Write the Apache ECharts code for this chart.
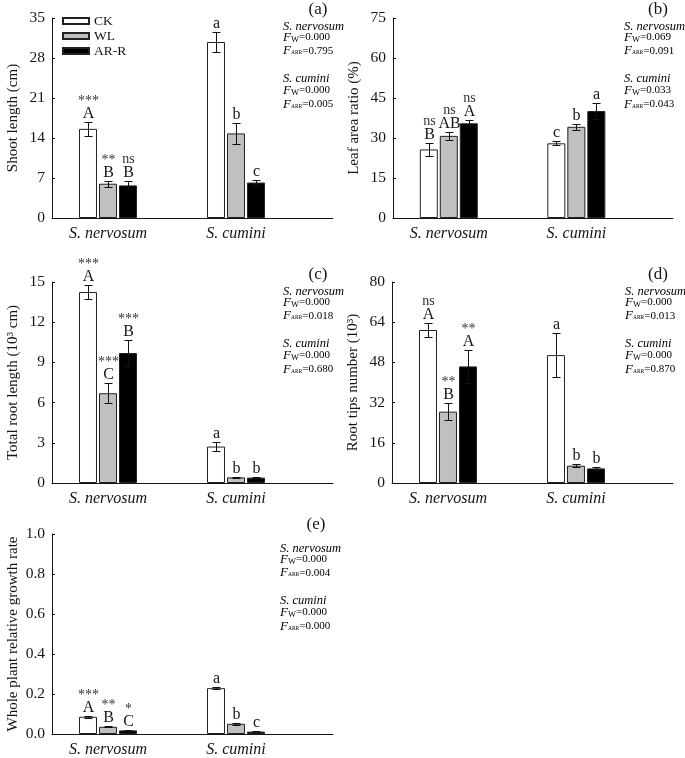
<!DOCTYPE html>
<html><head><meta charset="utf-8">
<script src="https://cdn.jsdelivr.net/npm/echarts@6/dist/echarts.min.js"></script>
<style>html,body{margin:0;padding:0;background:#fff}#c{width:685px;height:758px}</style>
</head><body><div id="c"></div>
<script>
const categories = ['S. nervosum', 'S. cumini'];
const treatments = ['CK', 'WL', 'AR-R'];

// (a) Shoot length (rows: CK, WL, AR-R; cols: S. nervosum, S. cumini)
const shootMean = [[15.6, 30.8], [6.0, 14.8], [5.7, 6.2]];
const shootErr = [[1.2, 1.8], [0.55, 1.85], [0.7, 0.4]];
const shootLetters = [['A', 'a'], ['B', 'b'], ['B', 'c']];
const shootSig = [['***', ''], ['**', ''], ['ns', '']];
const shootTicks = ['0', '7', '14', '21', '28', '35'];
const shootStats = ['0.000', '0.795', '0.000', '0.005'];

// (b) Leaf area ratio
const larMean = [[25.7, 28.0], [30.8, 34.2], [35.5, 40.1]];
const larErr = [[2.5, 0.8], [1.4, 1.1], [1.1, 2.9]];
const larLetters = [['B', 'c'], ['AB', 'b'], ['A', 'a']];
const larSig = [['ns', ''], ['ns', ''], ['ns', '']];
const larTicks = ['0', '15', '30', '45', '60', '75'];
const larStats = ['0.069', '0.091', '0.033', '0.043'];

// (c) Total root length
const trlMean = [[14.25, 2.72], [6.7, 0.42], [9.7, 0.40]];
const trlErr = [[0.55, 0.35], [0.75, 0.05], [1.0, 0.03]];
const trlLetters = [['A', 'a'], ['C', 'b'], ['B', 'b']];
const trlSig = [['***', ''], ['***', ''], ['***', '']];
const trlTicks = ['0', '3', '6', '9', '12', '15'];
const trlStats = ['0.000', '0.018', '0.000', '0.680'];

// (d) Root tips number
const rtnMean = [[60.9, 50.9], [28.4, 6.9], [46.4, 5.8]];
const rtnErr = [[2.9, 8.7], [3.4, 0.65], [6.4, 0.6]];
const rtnLetters = [['A', 'a'], ['B', 'b'], ['A', 'b']];
const rtnSig = [['ns', ''], ['**', ''], ['**', '']];
const rtnTicks = ['0', '16', '32', '48', '64', '80'];
const rtnStats = ['0.000', '0.013', '0.000', '0.870'];

// (e) Whole plant relative growth rate
const rgrMean = [[0.086, 0.229], [0.036, 0.051], [0.018, 0.012]];
const rgrErr = [[0.005, 0.006], [0.003, 0.006], [0.002, 0.002]];
const rgrLetters = [['A', 'a'], ['B', 'b'], ['C', 'c']];
const rgrSig = [['***', ''], ['**', ''], ['*', '']];
const rgrTicks = ['0.0', '0.2', '0.4', '0.6', '0.8', '1.0'];
const rgrStats = ['0.000', '0.004', '0.000', '0.000'];

const FONT = '"Liberation Serif", "Times New Roman", serif';
const INK = '#151515';
const fills = ['#ffffff', '#c0c0c0', '#000000'];
const BAR_W = 18, BAR_STEP = 20;

const panels = [
  { mean: shootMean, err: shootErr, letters: shootLetters, sig: shootSig, ticks: shootTicks, stats: shootStats,
    name: 'Shoot length (cm)', tag: '(a)', grid: { left: 52, top: 18, width: 281, height: 200 }, tagPos: [318, 10], statPos: [283, 27] },
  { mean: larMean, err: larErr, letters: larLetters, sig: larSig, ticks: larTicks, stats: larStats,
    name: 'Leaf area ratio (%)', tag: '(b)', grid: { left: 393, top: 18, width: 280, height: 200 }, tagPos: [658, 10], statPos: [624, 27] },
  { mean: trlMean, err: trlErr, letters: trlLetters, sig: trlSig, ticks: trlTicks, stats: trlStats,
    name: 'Total root length (10³ cm)', tag: '(c)', grid: { left: 52, top: 282, width: 281, height: 201 }, tagPos: [318, 275], statPos: [283, 292] },
  { mean: rtnMean, err: rtnErr, letters: rtnLetters, sig: rtnSig, ticks: rtnTicks, stats: rtnStats,
    name: 'Root tips number (10³)', tag: '(d)', grid: { left: 392, top: 282, width: 281, height: 201 }, tagPos: [658, 275], statPos: [625, 292] },
  { mean: rgrMean, err: rgrErr, letters: rgrLetters, sig: rgrSig, ticks: rgrTicks, stats: rgrStats,
    name: 'Whole plant relative growth rate', tag: '(e)', grid: { left: 52, top: 534, width: 281, height: 201 }, tagPos: [316, 525], statPos: [280, 549] }
];

const grids = [], xAxes = [], yAxes = [], series = [], graphics = [];

panels.forEach((p, pi) => {
  grids.push(Object.assign({ containLabel: false }, p.grid));
  xAxes.push({
    type: 'value', gridIndex: pi, min: 0.5625, max: 2.758,
    axisLine: { show: true, onZero: false, lineStyle: { color: INK, width: 1 } },
    axisTick: { show: false }, splitLine: { show: false },
    axisLabel: {
      customValues: [1, 2],
      formatter: v => categories[Math.round(v) - 1] || '',
      fontFamily: FONT, fontStyle: 'italic', fontSize: 16, color: INK, margin: 8
    }
  });
  const tv = p.ticks.map(Number);
  yAxes.push({
    type: 'value', gridIndex: pi, min: tv[0], max: tv[tv.length - 1], interval: tv[1] - tv[0],
    axisLine: { show: true, lineStyle: { color: INK, width: 1 } },
    axisTick: { show: true, inside: true, length: 3, lineStyle: { color: INK } },
    splitLine: { show: false },
    axisLabel: {
      formatter: v => { const k = tv.findIndex(t => Math.abs(t - v) < 1e-9); return k >= 0 ? p.ticks[k] : ''; },
      fontFamily: FONT, fontSize: 15.5, color: INK, margin: 7
    },
    name: p.name, nameLocation: 'middle', nameGap: 31,
    nameTextStyle: { fontFamily: FONT, fontSize: 15, color: INK }
  });
  treatments.forEach((tr, t) => {
    series.push({
      type: 'bar', name: tr, xAxisIndex: pi, yAxisIndex: pi,
      data: categories.map((c, i) => [i + 1, p.mean[t][i]]),
      barWidth: BAR_W, barGap: '11.1%',
      itemStyle: { color: fills[t], borderColor: '#222', borderWidth: 1 },
      silent: true
    });
  });
  const items = [];
  for (let t = 0; t < 3; t++) for (let i = 0; i < 2; i++)
    items.push({ t, i, m: p.mean[t][i], e: p.err[t][i], letter: p.letters[t][i], sig: p.sig[t][i] });
  series.push({
    type: 'custom', xAxisIndex: pi, yAxisIndex: pi, z: 5, silent: true,
    data: items.map(d => [d.i + 1, d.m, d.e, d.t]),
    renderItem(params, api) {
      const d = items[params.dataIndex];
      const top = api.coord([d.i + 1, d.m + d.e]);
      const bot = api.coord([d.i + 1, d.m - d.e]);
      const cx = Math.round(top[0] + (d.t - 1) * BAR_STEP) + 0.5;
      const ty = Math.round(top[1]) + 0.5, by = Math.round(bot[1]) + 0.5;
      const ls = { stroke: '#111', lineWidth: 1 };
      const ch = [
        { type: 'line', shape: { x1: cx, y1: ty, x2: cx, y2: by }, style: ls },
        { type: 'line', shape: { x1: cx - 4, y1: ty, x2: cx + 4, y2: ty }, style: ls },
        { type: 'line', shape: { x1: cx - 4, y1: by, x2: cx + 4, y2: by }, style: ls },
        { type: 'text', style: { x: cx, y: ty - 8.5, text: d.letter, align: 'center', verticalAlign: 'middle',
          font: '16px ' + FONT, fill: INK } }
      ];
      if (d.sig) ch.push({ type: 'text', style: { x: cx, y: ty - (d.sig === 'ns' ? 22 : 21.5), text: d.sig, align: 'center',
        verticalAlign: 'middle', font: '14px ' + FONT, fill: '#333' } });
      return { type: 'group', children: ch };
    }
  });

  graphics.push({ type: 'text', x: p.tagPos[0], y: p.tagPos[1],
    style: { text: p.tag, font: '17px ' + FONT, fill: INK, align: 'center', verticalAlign: 'middle' } });
  const rich = {
    it: { fontFamily: FONT, fontStyle: 'italic', fontSize: 12.5, color: INK },
    f: { fontFamily: FONT, fontStyle: 'italic', fontSize: 13, color: INK },
    w: { fontFamily: FONT, fontSize: 8.5, color: INK, padding: [4, 0, 0, 0] },
    a: { fontFamily: FONT, fontSize: 5.5, color: INK, padding: [4, 0, 0, 0] },
    v: { fontFamily: FONT, fontSize: 11, color: INK }
  };
  const lines = [
    '{it|S. nervosum}',
    '{f|F}{w|W}{v|=' + p.stats[0] + '}',
    '{f|F}{a|ARR}{v|=' + p.stats[1] + '}',
    '{it|S. cumini}',
    '{f|F}{w|W}{v|=' + p.stats[2] + '}',
    '{f|F}{a|ARR}{v|=' + p.stats[3] + '}'
  ];
  const offs = [0, 10.5, 24, 51.5, 63.5, 77.5];
  lines.forEach((txt, k) => {
    graphics.push({ type: 'text', x: p.statPos[0], y: p.statPos[1] + offs[k],
      style: { text: txt, rich, align: 'left', verticalAlign: 'middle' } });
  });
});

const chart = echarts.init(document.getElementById('c'), null, { renderer: 'canvas' });
chart.setOption({
  animation: false,
  backgroundColor: '#fff',
  grid: grids, xAxis: xAxes, yAxis: yAxes, series,
  legend: {
    data: treatments, left: 62, top: 14, padding: 0, orient: 'vertical', icon: 'rect',
    itemWidth: 26, itemHeight: 6, itemGap: 1, selectedMode: false,
    textStyle: { fontFamily: FONT, fontSize: 13.5, color: INK }
  },
  graphic: graphics
});
</script></body></html>
